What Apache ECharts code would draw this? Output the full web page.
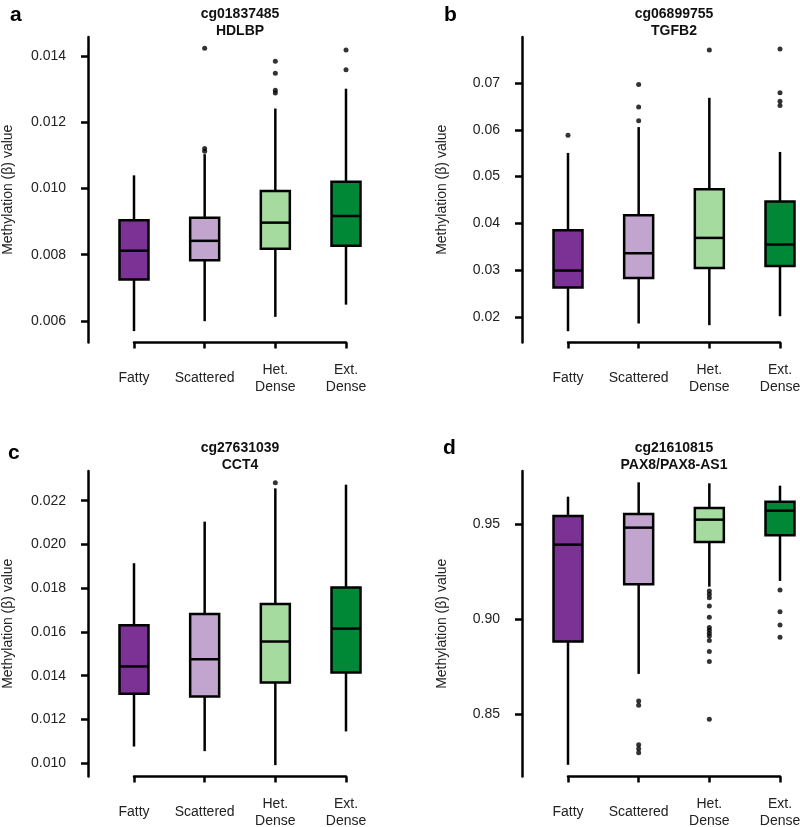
<!DOCTYPE html>
<html>
<head>
<meta charset="utf-8">
<script src="https://cdn.jsdelivr.net/npm/echarts@6/dist/echarts.min.js"></script>
<style>
  html, body { margin: 0; padding: 0; background: #fff; }
  #chart { width: 800px; height: 827px; }
</style>
</head>
<body>
<div id="chart"></div>
<script>
// categories shared by all four panels
const categories = ['Fatty', 'Scattered', 'Het.\nDense', 'Ext.\nDense'];
const boxColors = ['#7b3294', '#c2a5cf', '#a6dba0', '#008837'];

// each box: [low whisker, Q1, median, Q3, high whisker]
const boxA = [
  [0.00569, 0.00725, 0.00812, 0.00904, 0.01040],
  [0.00599, 0.00783, 0.00842, 0.00912, 0.01104],
  [0.00612, 0.00818, 0.00897, 0.00993, 0.01242],
  [0.00649, 0.00827, 0.00917, 0.01021, 0.01302]
];
const outA = [[1, 0.01424], [1, 0.01121], [1, 0.01113], [2, 0.01385], [2, 0.01349], [2, 0.01297], [2, 0.01289], [3, 0.01419], [3, 0.01359]];
const ticksA = [0.006, 0.008, 0.010, 0.012, 0.014];
const rangeA = [0.005345, 0.014584];

const boxB = [
  [0.01694, 0.02627, 0.0299, 0.03852, 0.05504],
  [0.01858, 0.02833, 0.0336, 0.04172, 0.06057],
  [0.01822, 0.03047, 0.03688, 0.04728, 0.06683],
  [0.02014, 0.0309, 0.03546, 0.04464, 0.05526]
];
const outB = [[0, 0.0588], [1, 0.06965], [1, 0.06486], [1, 0.0619], [2, 0.07705], [3, 0.07726], [3, 0.06789], [3, 0.0661], [3, 0.0652]];
const ticksB = [0.02, 0.03, 0.04, 0.05, 0.06, 0.07];
const rangeB = [0.01452, 0.07983];

const boxC = [
  [0.01076, 0.01317, 0.01442, 0.0163, 0.01914],
  [0.01055, 0.01305, 0.01475, 0.01682, 0.02104],
  [0.00991, 0.01369, 0.01556, 0.01728, 0.02256],
  [0.01145, 0.01414, 0.01615, 0.01803, 0.02273]
];
const outC = [[2, 0.02282]];
const ticksC = [0.010, 0.012, 0.014, 0.016, 0.018, 0.020, 0.022];
const rangeC = [0.00939, 0.023355];

const boxD = [
  [0.82311, 0.88814, 0.93928, 0.95439, 0.96459],
  [0.87109, 0.91837, 0.94824, 0.95545, 0.97214],
  [0.91711, 0.94069, 0.95246, 0.95861, 0.97162],
  [0.92012, 0.9442, 0.95721, 0.96195, 0.97039]
];
const outD = [
  [1, 0.85685], [1, 0.85458], [1, 0.83365], [1, 0.83154], [1, 0.82943],
  [2, 0.91485], [2, 0.91311], [2, 0.91132], [2, 0.90694], [2, 0.90098], [2, 0.8955],
  [2, 0.89413], [2, 0.89255], [2, 0.89112], [2, 0.88864], [2, 0.88284], [2, 0.87757], [2, 0.84719],
  [3, 0.91538], [3, 0.90393], [3, 0.89692], [3, 0.89044]
];
const ticksD = [0.85, 0.90, 0.95];
const rangeD = [0.81696, 0.97812];

const panels = [
  { letter: 'a', title: 'cg01837485\nHDLBP', box: boxA, out: outA, ticks: ticksA, range: rangeA, dec: 3, left: 134, top: 37, lx: 10, ly: 5, ty: 6 },
  { letter: 'b', title: 'cg06899755\nTGFB2', box: boxB, out: outB, ticks: ticksB, range: rangeB, dec: 2, left: 568, top: 37, lx: 444, ly: 5, ty: 6 },
  { letter: 'c', title: 'cg27631039\nCCT4', box: boxC, out: outC, ticks: ticksC, range: rangeC, dec: 3, left: 134, top: 471, lx: 8, ly: 443, ty: 440 },
  { letter: 'd', title: 'cg21610815\nPAX8/PAX8-AS1', box: boxD, out: outD, ticks: ticksD, range: rangeD, dec: 2, left: 568, top: 471, lx: 443, ly: 438, ty: 440 }
];

const FONT = 'Liberation Sans, Arial, sans-serif';
const TXT = '#222';

function renderBox(params, api) {
  const cat = api.value(0);
  const x = api.coord([cat, 0])[0];
  const yLo = api.coord([cat, api.value(1)])[1];
  const yQ1 = api.coord([cat, api.value(2)])[1];
  const yMed = api.coord([cat, api.value(3)])[1];
  const yQ3 = api.coord([cat, api.value(4)])[1];
  const yHi = api.coord([cat, api.value(5)])[1];
  const hw = 14.5;
  const ls = { stroke: '#000', lineWidth: 2.5 };
  return {
    type: 'group',
    children: [
      { type: 'line', shape: { x1: x, y1: yLo, x2: x, y2: yQ1 }, style: ls },
      { type: 'line', shape: { x1: x, y1: yQ3, x2: x, y2: yHi }, style: ls },
      { type: 'rect', shape: { x: x - hw, y: yQ3, width: hw * 2, height: yQ1 - yQ3 },
        style: { fill: boxColors[params.dataIndex], stroke: '#000', lineWidth: 2.5 } },
      { type: 'line', shape: { x1: x - hw, y1: yMed, x2: x + hw, y2: yMed }, style: ls }
    ]
  };
}

const grid = [], xAxis = [], yAxis = [], series = [], title = [];
panels.forEach(function (p, i) {
  grid.push({ left: p.left, width: 212, top: p.top, height: 305.5, outerBoundsMode: 'none', containLabel: false });
  xAxis.push({
    type: 'category', gridIndex: i, data: categories, boundaryGap: false,
    axisLine: { show: true, lineStyle: { color: '#000', width: 2.5 } },
    axisTick: { show: true, length: 6, alignWithLabel: true, lineStyle: { color: '#000', width: 2.5 } },
    axisLabel: { interval: 0, margin: 36, verticalAlign: 'middle', fontSize: 14, lineHeight: 17, color: TXT, fontFamily: FONT },
    splitLine: { show: false }
  });
  yAxis.push({
    type: 'value', gridIndex: i, min: p.range[0], max: p.range[1], offset: 46,
    name: 'Methylation (\u03b2) value', nameLocation: 'middle', nameGap: 73,
    nameTextStyle: { fontSize: 14, color: TXT, fontFamily: FONT },
    axisLine: { show: true, lineStyle: { color: '#000', width: 2.5 } },
    axisTick: { show: true, length: 7, customValues: p.ticks, lineStyle: { color: '#000', width: 2.5 } },
    axisLabel: { customValues: p.ticks, margin: 22, fontSize: 14, color: TXT, fontFamily: FONT,
      formatter: function (v) { return v.toFixed(p.dec); } },
    splitLine: { show: false }
  });
  series.push({
    type: 'custom', xAxisIndex: i, yAxisIndex: i, renderItem: renderBox,
    encode: { x: 0, y: [1, 2, 3, 4, 5] },
    data: p.box.map(function (b, k) { return [k].concat(b); }),
    silent: true
  });
  series.push({
    type: 'scatter', xAxisIndex: i, yAxisIndex: i, symbolSize: 5, clip: false,
    itemStyle: { color: '#000' }, data: p.out, silent: true, z: 5
  });
  title.push({
    text: p.letter, left: p.lx, top: p.ly, padding: 0,
    textStyle: { fontSize: 21, fontWeight: 'bold', color: '#000', fontFamily: FONT }
  });
  title.push({
    text: p.title, left: p.left + 106, top: p.ty, padding: 0, textAlign: 'center',
    textStyle: { fontSize: 14, fontWeight: 'bold', lineHeight: 17, color: '#111', fontFamily: FONT }
  });
});

const chart = echarts.init(document.getElementById('chart'));
chart.setOption({
  animation: false,
  backgroundColor: '#fff',
  title: title,
  grid: grid,
  xAxis: xAxis,
  yAxis: yAxis,
  series: series
});
</script>
</body>
</html>
